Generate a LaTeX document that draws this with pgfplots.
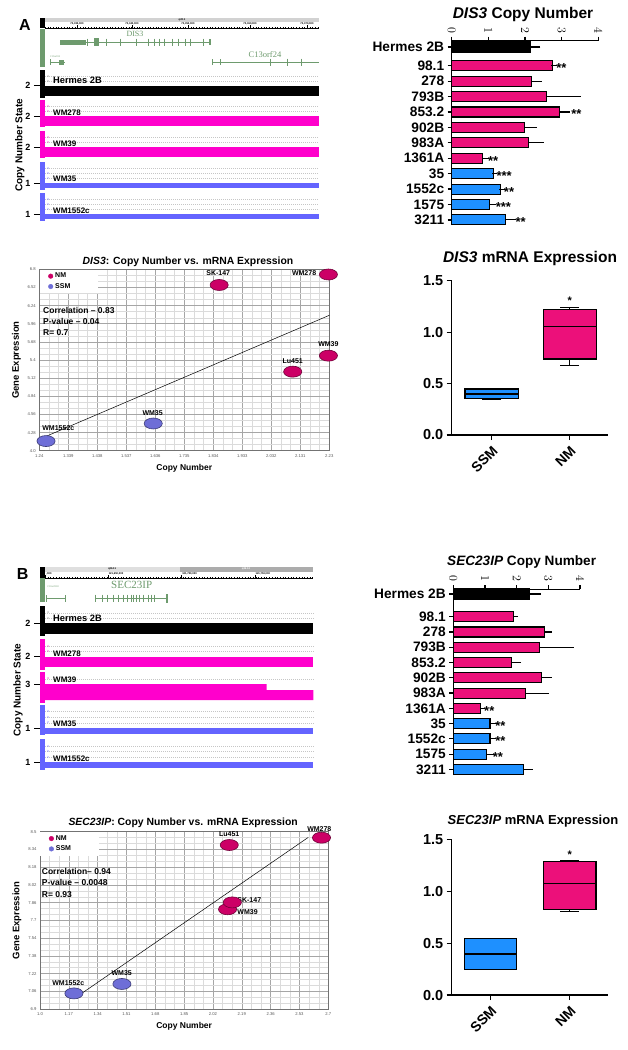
\documentclass[border=0pt]{standalone}
\usepackage{pgfplots}
\pgfplotsset{compat=1.18}
\usepgfplotslibrary{statistics}
\usepackage{fontspec}
\setmainfont{Liberation Sans}
\newfontfamily\genefont{Liberation Serif}
\newcommand{\fs}[1]{\fontsize{#1}{#1}\selectfont}
\definecolor{barpink}{RGB}{236,16,122}
\definecolor{barblue}{RGB}{30,144,255}
\definecolor{trkmag}{RGB}{255,0,204}
\definecolor{trkblue}{RGB}{100,100,255}
\definecolor{nmred}{RGB}{204,0,102}
\definecolor{ssmblue}{RGB}{110,110,215}
\definecolor{genegreen}{RGB}{110,155,110}
\newcommand{\rect}[5]{\addplot[#1] coordinates {(#2,#3) (#4,#3) (#4,#5) (#2,#5)};}
\tikzset{
 tnum/.style={font=\fs{3}, inner sep=0pt},
 trk/.style={font=\bfseries\fs{8}, anchor=west, inner sep=0pt},
 lbl/.style={font=\bfseries\fs{7}, inner sep=0pt},
 stat/.style={font=\bfseries\fs{8.5}, anchor=west, inner sep=0pt},
 star/.style={font=\bfseries\fs{13}, anchor=west, inner sep=0pt, yshift=-2.5pt},
 tiny/.style={font=\bfseries\fs{2.6}, inner sep=0pt},
}
\pgfplotsset{
 dashline/.style={gray!45, dash pattern=on 1pt off 1pt, line width=0.35pt},
 mybar/.style={xbar, bar width=10pt, draw=black, line width=1.1pt,
   error bars/x dir=plus, error bars/x explicit,
   error bars/error bar style={line width=1.1pt, black},
   error bars/error mark options={line width=1.1pt, black, mark size=2.8pt}},
 genome/.style={scale only axis, axis line style={draw=none}, xtick=\empty,
   ytick pos=left, tick align=outside, major tick length=6pt,
   tick style={black, line width=1pt}, yticklabel style={font=\bfseries\fs{9}},
   ylabel={Copy Number State}, ylabel style={font=\bfseries\fs{10}, anchor=center}, clip=false},
 barax/.style={scale only axis, xmin=0, xmax=4,
   axis x line*=top, axis y line*=left, axis line style={line width=1.4pt},
   xtick={0,1,2,3,4}, xticklabel style={font=\bfseries\fs{11.5}, rotate=-90, anchor=east},
   yticklabels={Hermes 2B,98.1,278,793B,853.2,902B,983A,1361A,35,1552c,1575,3211},
   yticklabel style={font=\bfseries\fs{13.7}},
   tick align=outside, major tick length=4pt, tick style={black, line width=1.2pt},
   title style={at={(0.5,1)}, anchor=base}, clip=false},
 boxax/.style={scale only axis, width=156.6pt, xmin=0, xmax=1, ymin=0, ymax=1.5,
   axis x line*=bottom, axis y line*=left, axis line style={line width=1.4pt},
   xticklabels={SSM,NM}, xticklabel style={font=\bfseries\fs{14}, rotate=45, anchor=north east},
   ytick={0,0.5,1,1.5},
   yticklabel style={font=\bfseries\fs{14.5}, /pgf/number format/fixed, /pgf/number format/fixed zerofill, /pgf/number format/precision=1, /pgf/number format/assume math mode=true},
   tick align=outside, major tick length=5pt, tick style={black, line width=1.2pt},
   title style={at={(0.5,1)}, anchor=base}, clip=false},
 mybox/.style={boxplot/draw direction=y, draw=black, line width=1.3pt},
 scat/.style={scale only axis, grid=both, minor x tick num=2, minor y tick num=2,
   major grid style={gray!70, line width=0.55pt}, minor grid style={gray!28, line width=0.35pt},
   tick style={draw=none}, tick label style={font=\fs{4.2}, text=black!65},
   axis line style={black!55, line width=0.7pt},
   xlabel={Copy Number}, ylabel={Gene Expression},
   xlabel style={font=\bfseries\fs{8.5}}, ylabel style={font=\bfseries\fs{9.5}},
   title style={font=\bfseries\fs{10.4}, at={(0.5,1)}, anchor=base},
   legend style={at={(0,1)}, anchor=north west, draw=none, fill=white, font=\bfseries\fs{7}, inner xsep=3pt, inner ysep=1.5pt, row sep=0pt},
   legend cell align=left, clip=false},
 nmpt/.style={only marks, mark=*, mark size=5.5pt, mark options={xscale=1.65, fill=nmred, draw=nmred!55!black, line width=0.6pt},
   legend image code/.code={\path (0pt,0pt); \fill[nmred] (8pt,0pt) circle (2.3pt);}},
 ssmpt/.style={only marks, mark=*, mark size=5.5pt, mark options={xscale=1.65, fill=ssmblue, draw=ssmblue!55!black, line width=0.6pt},
   legend image code/.code={\path (0pt,0pt); \fill[ssmblue] (8pt,0pt) circle (2.3pt);}},
}
\begin{document}
\begin{tikzpicture}
\useasboundingbox (0pt,0pt) rectangle (627pt,-1050pt);
\fill[white] (0pt,0pt) rectangle (627pt,-1050pt);

%================ A: genome track =================
\begin{axis}[genome, at={(40pt,-223pt)}, anchor=south west, width=279pt, height=205pt,
  xmin=40, xmax=319, ymin=-223, ymax=-18,
  ytick={-85,-116,-147,-183,-214}, yticklabels={2,2,2,1,1},
  ylabel style={at={(axis description cs:-0.072,0.38)}}]
\node[font=\bfseries\fs{16}] at (axis cs:25,-25) {A};
\rect{fill=black,draw=none}{40}{-18}{45}{-28}
\rect{fill=gray!35,draw=none}{45}{-18}{319}{-21.5}
\addplot[black,line width=0.5pt] coordinates {(45,-28) (319,-28)};
\addplot[black,line width=0.6pt,dash pattern=on 0.4pt off 2.3pt] coordinates {(45,-27.2) (319,-27.2)};
\addplot[black,line width=0.5pt,unbounded coords=jump] coordinates {(77,-25) (77,-28) (nan,nan) (132,-25) (132,-28) (nan,nan) (188,-25) (188,-28) (nan,nan) (250,-25) (250,-28) (nan,nan) (307,-25) (307,-28)};
\node[tiny] at (axis cs:77,-23.6) {73,330,000};
\node[tiny] at (axis cs:132,-23.6) {73,340,000};
\node[tiny] at (axis cs:188,-23.6) {73,350,000};
\node[tiny] at (axis cs:250,-23.6) {73,360,000};
\node[tiny] at (axis cs:307,-23.6) {73,370,000};
\node[tiny] at (axis cs:182,-19.8) {q22.1};
% genes
\rect{fill=genegreen,draw=none}{40}{-29}{45}{-67}
\addplot[genegreen,line width=0.6pt] coordinates {(60,-42) (211,-42)};
\rect{fill=genegreen,draw=none}{60}{-39.5}{86}{-45}
\rect{fill=genegreen,draw=none}{94}{-38}{98.7}{-46}
\rect{fill=genegreen,draw=none}{208.8}{-39}{210.8}{-45}
\addplot[genegreen,line width=0.9pt,unbounded coords=jump] coordinates {(87.7,-38.5) (87.7,-45.5) (nan,nan) (106.7,-38.5) (106.7,-45.5) (nan,nan) (120.7,-38.5) (120.7,-45.5) (nan,nan) (136.7,-38.5) (136.7,-45.5) (nan,nan) (148.7,-38.5) (148.7,-45.5) (nan,nan) (154,-38.5) (154,-45.5) (nan,nan) (159,-38.5) (159,-45.5) (nan,nan) (164.3,-38.5) (164.3,-45.5) (nan,nan) (172.7,-38.5) (172.7,-45.5) (nan,nan) (178,-38.5) (178,-45.5) (nan,nan) (185,-38.5) (185,-45.5) (nan,nan) (190,-38.5) (190,-45.5) (nan,nan) (203.3,-38.5) (203.3,-45.5)};
\addplot[genegreen,line width=0.6pt] coordinates {(50,-62) (65,-62)};
\rect{fill=genegreen,draw=none}{59}{-59.5}{64.3}{-64.5}
\addplot[genegreen,line width=0.6pt] coordinates {(212.3,-62) (319,-62)};
\addplot[genegreen,line width=1.1pt,unbounded coords=jump] coordinates {(50.7,-59) (50.7,-65) (nan,nan) (212.6,-59) (212.6,-65) (nan,nan) (220.7,-59) (220.7,-65) (nan,nan) (270.7,-58.5) (270.7,-65.5) (nan,nan) (287.3,-58.5) (287.3,-65.5) (nan,nan) (301.7,-58.5) (301.7,-65.5)};
\node[text=genegreen,font=\genefont\fs{8}] at (axis cs:135,-34) {DIS3};
\node[text=genegreen,font=\genefont\fs{8.5}] at (axis cs:265,-54.5) {C13orf24};
\node[text=genegreen,font=\genefont\fs{2.6}] at (axis cs:55,-56.5) {C13orf24};
% Hermes 2B
\rect{fill=black,draw=none}{40}{-70}{45}{-98}
\addplot[dashline] coordinates {(45,-76) (319,-76)};
\addplot[dashline] coordinates {(45,-81) (319,-81)};
\rect{fill=black,draw=none}{45}{-86}{319}{-96}
\node[tnum,text=gray] at (axis cs:48,-76) {4};
\node[tnum,text=gray] at (axis cs:48,-81) {3};
\node[trk,font=\bfseries\fs{9.3}] at (axis cs:53,-80) {Hermes 2B};
% WM278
\rect{fill=trkmag,draw=none}{40}{-100}{45}{-127}
\addplot[dashline] coordinates {(45,-106) (319,-106)};
\addplot[dashline] coordinates {(45,-111) (319,-111)};
\rect{fill=trkmag,draw=none}{45}{-116}{319}{-126}
\node[tnum,text=trkmag] at (axis cs:48,-106) {4};
\node[tnum,text=trkmag] at (axis cs:48,-111) {3};
\node[trk] at (axis cs:53,-112.5) {WM278};
% WM39
\rect{fill=trkmag,draw=none}{40}{-131}{45}{-158}
\addplot[dashline] coordinates {(45,-137) (319,-137)};
\addplot[dashline] coordinates {(45,-142) (319,-142)};
\rect{fill=trkmag,draw=none}{45}{-147}{319}{-157}
\node[tnum,text=trkmag] at (axis cs:48,-137) {4};
\node[tnum,text=trkmag] at (axis cs:48,-142) {3};
\node[trk] at (axis cs:53,-143.5) {WM39};
% WM35
\rect{fill=trkblue,draw=none}{40}{-162}{45}{-190}
\addplot[dashline] coordinates {(45,-168) (319,-168)};
\addplot[dashline] coordinates {(45,-173) (319,-173)};
\addplot[dashline] coordinates {(45,-178) (319,-178)};
\rect{fill=trkblue,draw=none}{45}{-183}{319}{-188}
\node[tnum,text=trkblue] at (axis cs:48,-168) {4};
\node[tnum,text=trkblue] at (axis cs:48,-173) {3};
\node[tnum,text=trkblue] at (axis cs:48,-178) {2};
\node[trk] at (axis cs:53,-179) {WM35};
% WM1552c
\rect{fill=trkblue,draw=none}{40}{-193}{45}{-221}
\addplot[dashline] coordinates {(45,-199) (319,-199)};
\addplot[dashline] coordinates {(45,-204) (319,-204)};
\addplot[dashline] coordinates {(45,-209) (319,-209)};
\rect{fill=trkblue,draw=none}{45}{-214}{319}{-219}
\node[tnum,text=trkblue] at (axis cs:48,-199) {4};
\node[tnum,text=trkblue] at (axis cs:48,-204) {3};
\node[tnum,text=trkblue] at (axis cs:48,-209) {2};
\node[trk] at (axis cs:53,-210.5) {WM1552c};
\end{axis}

%================ A: copy number bars =================
\begin{axis}[barax, at={(451.7pt,-40.7pt)}, anchor=north west, width=146.6pt, height=184.3pt,
  ymin=-11.54, ymax=0.41,
  ytick={0,-1.21,-2.21,-3.21,-4.21,-5.21,-6.21,-7.21,-8.21,-9.21,-10.21,-11.21},
  title={\textit{DIS3} Copy Number}, title style={font=\bfseries\fs{15.5}, yshift=16.2pt, xshift=-2pt}]
\addplot[mybar, fill=black] coordinates {(2.16,0) +- (0.18,0)};
\addplot[mybar, fill=barpink] coordinates {(2.75,-1.21) +- (0.04,0) (2.18,-2.21) +- (0.2,0) (2.59,-3.21) +- (0.85,0) (2.94,-4.21) +- (0.21,0) (1.98,-5.21) +- (0.26,0) (2.09,-6.21) +- (0.34,0) (0.85,-7.21) +- (0.1,0)};
\addplot[mybar, fill=barblue] coordinates {(1.14,-8.21) +- (0.03,0) (1.34,-9.21) +- (0.03,0) (1.03,-10.21) +- (0.1,0) (1.47,-11.21) +- (0.21,0)};
\node[star] at (axis cs:2.85,-1.21) {**};
\node[star] at (axis cs:3.26,-4.21) {**};
\node[star] at (axis cs:0.99,-7.21) {**};
\node[star] at (axis cs:1.22,-8.21) {***};
\node[star] at (axis cs:1.42,-9.21) {**};
\node[star] at (axis cs:1.2,-10.21) {***};
\node[star] at (axis cs:1.74,-11.21) {**};
\end{axis}

%================ A: scatter =================
\begin{axis}[scat, at={(39.3pt,-450.7pt)}, anchor=south west, width=290pt, height=181.4pt,
  xmin=1.24, xmax=2.23, ymin=4.0, ymax=6.8,
  xtick={1.24,1.339,1.438,1.537,1.636,1.735,1.834,1.933,2.032,2.131,2.23},
  xticklabels={1.24,1.339,1.438,1.537,1.636,1.735,1.834,1.933,2.032,2.131,2.23},
  ytick={4.0,4.28,4.56,4.84,5.12,5.4,5.68,5.96,6.24,6.52,6.8},
  yticklabels={4.0,4.28,4.56,4.84,5.12,5.4,5.68,5.96,6.24,6.52,6.8},
  title={\textit{DIS3}: Copy Number vs. mRNA Expression}, title style={yshift=-1.1pt, xshift=3.7pt}]
\addplot[black, line width=0.5pt, forget plot] coordinates {(1.26,4.216) (2.23,6.09)};
\addplot[nmpt] coordinates {(1.854,6.558) (2.227,6.72) (2.105,5.22) (2.227,5.467)};
\addplot[ssmpt] coordinates {(1.263,4.149) (1.629,4.42)};
\legend{\makebox[38pt][l]{NM}, \makebox[38pt][l]{SSM}}
\node[lbl] at (axis cs:1.305,4.355) {WM1552c};
\node[lbl] at (axis cs:1.627,4.587) {WM35};
\node[lbl] at (axis cs:1.851,6.738) {SK-147};
\node[lbl] at (axis cs:2.144,6.738) {WM278};
\node[lbl] at (axis cs:2.105,5.389) {Lu451};
\node[lbl] at (axis cs:2.227,5.642) {WM39};
\node[stat] at (axis cs:1.2526,6.161) {Correlation – 0.83};
\node[stat] at (axis cs:1.2526,5.991) {P-value – 0.04};
\node[stat] at (axis cs:1.2526,5.821) {R= 0.7};
\end{axis}

%================ A: box plot =================
\begin{axis}[boxax, at={(451.7pt,-435pt)}, anchor=south west, height=154.3pt,
  xtick={0.255,0.754},
  title={\textit{DIS3} mRNA Expression}, title style={font=\bfseries\fs{15.5}, yshift=12.4pt}]
\addplot[mybox, boxplot prepared={lower whisker=0.35, lower quartile=0.355, median=0.398, upper quartile=0.447, upper whisker=0.45, draw position=0.255, box extend=0.34, whisker extend=0.12}, fill=barblue] coordinates {};
\addplot[mybox, boxplot prepared={lower whisker=0.674, lower quartile=0.739, median=1.053, upper quartile=1.221, upper whisker=1.241, draw position=0.754, box extend=0.34, whisker extend=0.12}, fill=barpink] coordinates {};
\node[font=\bfseries\fs{11}] at (axis cs:0.754,1.31) {*};
\end{axis}

%================ B: genome track =================
\begin{axis}[genome, at={(40pt,-771pt)}, anchor=south west, width=273.3pt, height=204pt,
  xmin=40, xmax=313.3, ymin=-771, ymax=-567,
  ytick={-623.3,-656,-684,-728.3,-762.3}, yticklabels={2,2,3,1,1},
  ylabel style={at={(axis description cs:-0.08,0.397)}}]
\node[font=\bfseries\fs{16}] at (axis cs:22.7,-574) {B};
\rect{fill=black,draw=none}{40}{-567}{45}{-578}
\rect{fill=gray!25,draw=none}{45}{-567}{180}{-571.5}
\rect{fill=gray!65,draw=none}{180}{-567}{313.3}{-571.5}
\addplot[black,line width=0.5pt] coordinates {(45,-578) (313.3,-578)};
\addplot[black,line width=0.6pt,dash pattern=on 0.4pt off 2.3pt] coordinates {(45,-577.2) (313.3,-577.2)};
\addplot[black,line width=0.5pt,unbounded coords=jump] coordinates {(45.5,-575) (45.5,-578) (nan,nan) (108.3,-575) (108.3,-578) (nan,nan) (181.7,-575) (181.7,-578) (nan,nan) (255,-575) (255,-578)};
\node[tiny] at (axis cs:49,-574.2) {,000};
\node[tiny] at (axis cs:116,-574.2) {121,650,000};
\node[tiny] at (axis cs:189.5,-574.2) {121,700,000};
\node[tiny] at (axis cs:262.8,-574.2) {121,750,000};
\node[tiny] at (axis cs:112,-569.2) {q26.11};
\node[tiny,text=white] at (axis cs:246,-569.2) {q26.12};
\rect{fill=genegreen,draw=none}{40}{-578}{45}{-601.7}
\addplot[genegreen,line width=0.6pt] coordinates {(95,-598.3) (166.7,-598.3)};
\addplot[genegreen,line width=0.8pt,unbounded coords=jump] coordinates {(95,-594.5) (95,-602) (nan,nan) (102.7,-594.5) (102.7,-602) (nan,nan) (107.3,-594.5) (107.3,-602) (nan,nan) (113.3,-594.5) (113.3,-602) (nan,nan) (118.3,-594.5) (118.3,-602) (nan,nan) (123.3,-594.5) (123.3,-602) (nan,nan) (127.7,-594.5) (127.7,-602) (nan,nan) (131,-594.5) (131,-602) (nan,nan) (133.3,-594.5) (133.3,-602) (nan,nan) (136,-594.5) (136,-602) (nan,nan) (139.3,-594.5) (139.3,-602) (nan,nan) (143.3,-594.5) (143.3,-602) (nan,nan) (148.3,-594.5) (148.3,-602) (nan,nan) (151.7,-594.5) (151.7,-602) (nan,nan) (154,-594.5) (154,-602)};
\rect{fill=genegreen,draw=none}{165.5}{-594}{167.5}{-602.5}
\addplot[genegreen,line width=0.6pt] coordinates {(45.7,-598.3) (65,-598.3)};
\addplot[genegreen,line width=0.7pt,unbounded coords=jump] coordinates {(45.9,-595) (45.9,-601.5) (nan,nan) (65,-595) (65,-601.5)};
\node[text=genegreen,font=\genefont\fs{11}] at (axis cs:131.7,-585) {SEC23IP};
\node[text=genegreen,font=\genefont\fs{2.6}] at (axis cs:53,-587) {C10orf118};
% Hermes 2B
\rect{fill=black,draw=none}{40}{-606}{45}{-636}
\addplot[dashline] coordinates {(45,-612.7) (313.3,-612.7)};
\addplot[dashline] coordinates {(45,-618) (313.3,-618)};
\rect{fill=black,draw=none}{45}{-623.3}{313.3}{-634}
\node[tnum,text=gray] at (axis cs:48,-612.7) {4};
\node[tnum,text=gray] at (axis cs:48,-618) {3};
\node[trk,font=\bfseries\fs{9.3}] at (axis cs:53,-618.3) {Hermes 2B};
% WM278
\rect{fill=trkmag,draw=none}{40}{-639.3}{45}{-670}
\addplot[dashline] coordinates {(45,-646.5) (313.3,-646.5)};
\addplot[dashline] coordinates {(45,-651.6) (313.3,-651.6)};
\rect{fill=trkmag,draw=none}{45}{-656.7}{313.3}{-667}
\node[tnum,text=trkmag] at (axis cs:48,-646.5) {4};
\node[tnum,text=trkmag] at (axis cs:48,-651.6) {3};
\node[trk] at (axis cs:53,-653.3) {WM278};
% WM39
\rect{fill=trkmag,draw=none}{40}{-671.7}{45}{-703.3}
\addplot[dashline] coordinates {(45,-678.7) (313.3,-678.7)};
\addplot[fill=trkmag,draw=none] coordinates {(45,-684) (266.7,-684) (266.7,-690) (313.3,-690) (313.3,-700) (45,-700)};
\node[tnum,text=trkmag] at (axis cs:48,-678.7) {4};
\node[trk] at (axis cs:53,-680) {WM39};
% WM35
\rect{fill=trkblue,draw=none}{40}{-705}{45}{-735}
\addplot[dashline] coordinates {(45,-711.5) (313.3,-711.5)};
\addplot[dashline] coordinates {(45,-717) (313.3,-717)};
\addplot[dashline] coordinates {(45,-722.8) (313.3,-722.8)};
\rect{fill=trkblue,draw=none}{45}{-728.3}{313.3}{-734}
\node[tnum,text=trkblue] at (axis cs:48,-711.5) {4};
\node[tnum,text=trkblue] at (axis cs:48,-717) {3};
\node[tnum,text=trkblue] at (axis cs:48,-722.8) {2};
\node[trk] at (axis cs:53,-723.5) {WM35};
% WM1552c
\rect{fill=trkblue,draw=none}{40}{-739.3}{45}{-770}
\addplot[dashline] coordinates {(45,-746) (313.3,-746)};
\addplot[dashline] coordinates {(45,-751.3) (313.3,-751.3)};
\addplot[dashline] coordinates {(45,-757) (313.3,-757)};
\rect{fill=trkblue,draw=none}{45}{-762.3}{313.3}{-767.7}
\node[tnum,text=trkblue] at (axis cs:48,-746) {4};
\node[tnum,text=trkblue] at (axis cs:48,-751.3) {3};
\node[tnum,text=trkblue] at (axis cs:48,-757) {2};
\node[trk] at (axis cs:53,-758.3) {WM1552c};
\end{axis}

%================ B: copy number bars =================
\begin{axis}[barax, at={(453.3pt,-589.3pt)}, anchor=north west, width=126.7pt, height=185.7pt,
  ymin=-11.86, ymax=0.31,
  ytick={0,-1.49,-2.49,-3.49,-4.49,-5.49,-6.49,-7.49,-8.49,-9.49,-10.49,-11.49},
  title={\textit{SEC23IP} Copy Number}, title style={font=\bfseries\fs{13.6}, yshift=17.8pt, xshift=5pt}]
\addplot[mybar, fill=black] coordinates {(2.4,0) +- (0.28,0)};
\addplot[mybar, fill=barpink] coordinates {(1.89,-1.49) +- (0.07,0) (2.87,-2.49) +- (0.15,0) (2.71,-3.49) +- (1.0,0) (1.83,-4.49) +- (0.22,0) (2.79,-5.49) +- (0.23,0) (2.29,-6.49) +- (0.65,0) (0.86,-7.49) +- (0.06,0)};
\addplot[mybar, fill=barblue] coordinates {(1.16,-8.49) +- (0.12,0) (1.16,-9.49) +- (0.1,0) (1.05,-10.49) +- (0.14,0) (2.23,-11.49) +- (0.19,0)};
\node[star] at (axis cs:0.97,-7.49) {**};
\node[star] at (axis cs:1.32,-8.49) {**};
\node[star] at (axis cs:1.32,-9.49) {**};
\node[star] at (axis cs:1.24,-10.49) {**};
\end{axis}

%================ B: scatter =================
\begin{axis}[scat, at={(40pt,-1009pt)}, anchor=south west, width=288.3pt, height=177.3pt,
  xmin=1.0, xmax=2.7, ymin=6.9, ymax=8.5,
  xtick={1.0,1.17,1.34,1.51,1.68,1.85,2.02,2.19,2.36,2.53,2.7},
  xticklabels={1.0,1.17,1.34,1.51,1.68,1.85,2.02,2.19,2.36,2.53,2.7},
  ytick={6.9,7.06,7.22,7.38,7.54,7.7,7.86,8.02,8.18,8.34,8.5},
  yticklabels={6.9,7.06,7.22,7.38,7.54,7.7,7.86,8.02,8.18,8.34,8.5},
  title={\textit{SEC23IP}: Copy Number vs. mRNA Expression}, title style={yshift=0.3pt, xshift=-1pt}]
\addplot[black, line width=0.5pt, forget plot] coordinates {(1.246,7.041) (2.582,8.449)};
\addplot[nmpt] coordinates {(2.116,8.38) (2.106,7.80) (2.134,7.862) (2.66,8.446)};
\addplot[ssmpt] coordinates {(1.2,7.041) (1.483,7.126)};
\legend{\makebox[38pt][l]{NM}, \makebox[38pt][l]{SSM}}
\node[lbl] at (axis cs:1.167,7.132) {WM1552c};
\node[lbl] at (axis cs:1.482,7.222) {WM35};
\node[lbl] at (axis cs:2.116,8.477) {Lu451};
\node[lbl] at (axis cs:2.647,8.527) {WM278};
\node[lbl,anchor=west] at (axis cs:2.163,7.884) {SK-147};
\node[lbl,anchor=west] at (axis cs:2.163,7.773) {WM39};
\node[stat] at (axis cs:1.01,8.139) {Correlation– 0.94};
\node[stat] at (axis cs:1.01,8.04) {P-value – 0.0048};
\node[stat] at (axis cs:1.01,7.935) {R= 0.93};
\end{axis}

%================ B: box plot =================
\begin{axis}[boxax, at={(451.7pt,-995pt)}, anchor=south west, height=155.7pt,
  xtick={0.248,0.754},
  title={\textit{SEC23IP} mRNA Expression}, title style={font=\bfseries\fs{13}, yshift=9.3pt, xshift=3pt}]
\addplot[mybox, boxplot prepared={lower whisker=0.247, lower quartile=0.247, median=0.395, upper quartile=0.546, upper whisker=0.546, draw position=0.248, box extend=0.335, whisker extend=0.12}, fill=barblue] coordinates {};
\addplot[mybox, boxplot prepared={lower whisker=0.803, lower quartile=0.825, median=1.076, upper quartile=1.285, upper whisker=1.294, draw position=0.754, box extend=0.335, whisker extend=0.12}, fill=barpink] coordinates {};
\node[font=\bfseries\fs{11}] at (axis cs:0.754,1.35) {*};
\end{axis}
\end{tikzpicture}
\end{document}
